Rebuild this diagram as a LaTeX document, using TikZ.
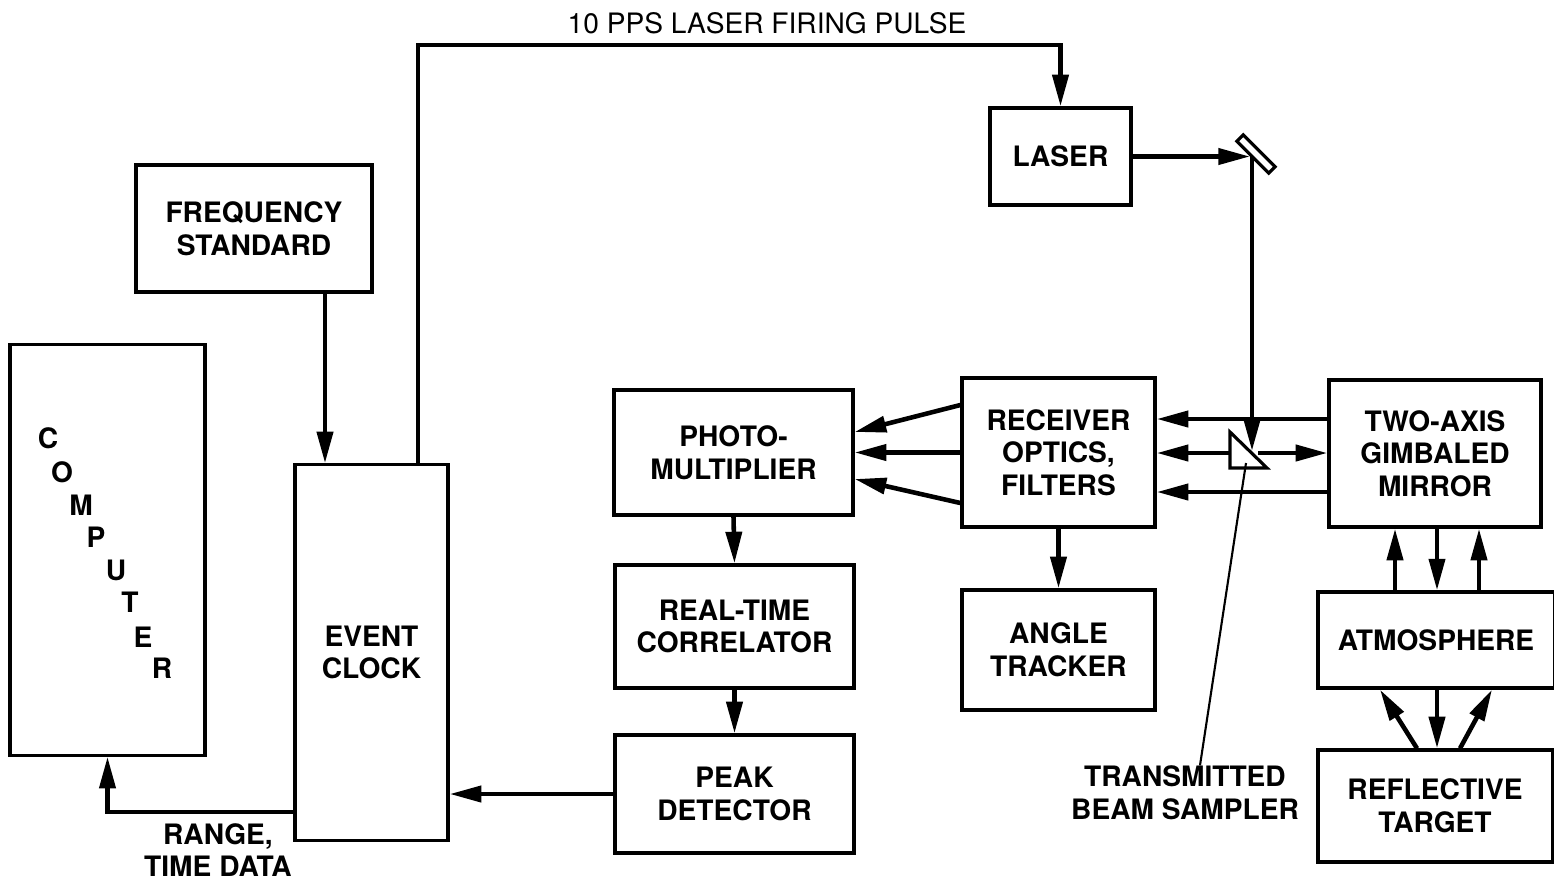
\documentclass[tikz,border=0pt]{standalone}
\usepackage{fontspec}
\setmainfont{TeX Gyre Heros}
\usetikzlibrary{arrows.meta, calc}

\tikzset{
  blk/.style={draw, line width=0.9pt, align=center, inner sep=0pt,
    font=\bfseries\fontsize{8}{9.3}\selectfont},
  lbl/.style={align=center, inner sep=0pt, font=\bfseries\fontsize{8}{9.3}\selectfont},
  arr/.style={line width=1.3pt, -{Triangle[length=9pt,width=4.5pt]}}
}

\begin{document}
\begin{tikzpicture}[x=0.01cm, y=-0.01cm]
\useasboundingbox (0,0) rectangle (1554,884);
% boxes
\node[blk, minimum width=1.95cm, minimum height=4.10cm] (comp) at (107.5,550) {};
\foreach \ch/\px/\py in {C/48/438, O/62/472, M/81/505, P/96/537, U/116/570, T/130/602, E/143/637, R/162/668}
  \node[lbl] (comp-\ch) at (\px,\py) {\ch};
\node[blk, minimum width=2.36cm, minimum height=1.27cm] (freq) at (254,228.5) {FREQUENCY\\STANDARD};
\node[blk, minimum width=1.53cm, minimum height=3.75cm] (clock) at (371.5,652.5) {EVENT\\CLOCK};
\node[blk, minimum width=1.41cm, minimum height=0.97cm] (laser) at (1060.5,156.5) {LASER};
\node[blk, minimum width=2.39cm, minimum height=1.25cm] (photo) at (733.5,452.5) {PHOTO-\\MULTIPLIER};
\node[blk, minimum width=2.39cm, minimum height=1.23cm] (corr) at (734.5,626.5) {REAL-TIME\\CORRELATOR};
\node[blk, minimum width=2.39cm, minimum height=1.18cm] (peak) at (734.5,794) {PEAK\\DETECTOR};
\node[blk, minimum width=1.93cm, minimum height=1.49cm] (recv) at (1058.5,452.5) {RECEIVER\\OPTICS,\\FILTERS};
\node[blk, minimum width=1.93cm, minimum height=1.20cm] (angle) at (1058.5,650) {ANGLE\\TRACKER};
\node[blk, minimum width=2.12cm, minimum height=1.47cm] (gimbal) at (1435,453.5) {TWO-AXIS\\GIMBALED\\MIRROR};
\node[blk, minimum width=2.36cm, minimum height=0.96cm] (atmos) at (1436,640) {ATMOSPHERE};
\node[blk, minimum width=2.34cm, minimum height=1.12cm] (target) at (1435,806) {REFLECTIVE\\TARGET};
\node[draw, line width=0.9pt, minimum width=0.45cm, minimum height=0.09cm, inner sep=0pt, rotate=-45] (mirror) at (1256,154) {};
% labels
\node[lbl, font=\fontsize{8}{9.3}\selectfont] (firing) at (767,23) {10 PPS LASER FIRING PULSE};
\node[lbl] (rtd) at (218,850) {RANGE,\\TIME DATA};
\node[lbl] (tbs) at (1185,793) {TRANSMITTED\\BEAM SAMPLER};
% firing pulse and laser path
\draw[arr] (418,0 |- clock.north) |- (laser.north |- 0,45) -- (laser.north);
\draw[arr] (freq.south -| 325,0) -- (clock.north -| 325,0);
\draw[arr] (laser.east) -- (1250,0 |- laser.east);
\coordinate (hit) at (1252,157);
\draw[arr] (hit) -- (1252,451);
% return paths
\draw[arr] (gimbal.west |- 0,419) -- (recv.east |- 0,419);
\draw[arr] (1230,453) -- (recv.east |- 0,453);
\draw[arr] (1258,453) -- (gimbal.west |- 0,453);
\draw[arr] (gimbal.west |- 0,492) -- (recv.east |- 0,492);
\draw[line width=0.9pt, fill=white] (1230,432) -- (1230,468) -- (1267,468) -- cycle; %sampler
\draw[line width=0.6pt] (tbs.north -| 1200,0) -- (1246,463);
\draw[arr] (recv.west |- 0,405) -- (photo.east |- 0,432);
\draw[arr] (recv.west) -- (photo.east |- recv.west);
\draw[arr] (recv.west |- 0,503) -- (photo.east |- 0,479);
\draw[arr] (recv.south) -- (angle.north);
\draw[arr] (photo.south) -- (corr.north);
\draw[arr] (corr.south) -- (peak.north);
\draw[arr] (peak.west) -- (clock.east |- peak.west);
\draw[arr] (clock.west |- 0,812) -| (comp.south);
% mirror, atmosphere, target
\draw[arr] (atmos.north -| 1395,0) -- (gimbal.south -| 1395,0);
\draw[arr] (gimbal.south -| 1437,0) -- (atmos.north -| 1437,0);
\draw[arr] (atmos.north -| 1479,0) -- (gimbal.south -| 1479,0);
\draw[arr] (target.north -| 1417,0) -- (atmos.south -| 1380,0);
\draw[arr] (atmos.south -| 1437,0) -- (target.north -| 1437,0);
\draw[arr] (target.north -| 1460,0) -- (atmos.south -| 1492,0);
\end{tikzpicture}
\end{document}
